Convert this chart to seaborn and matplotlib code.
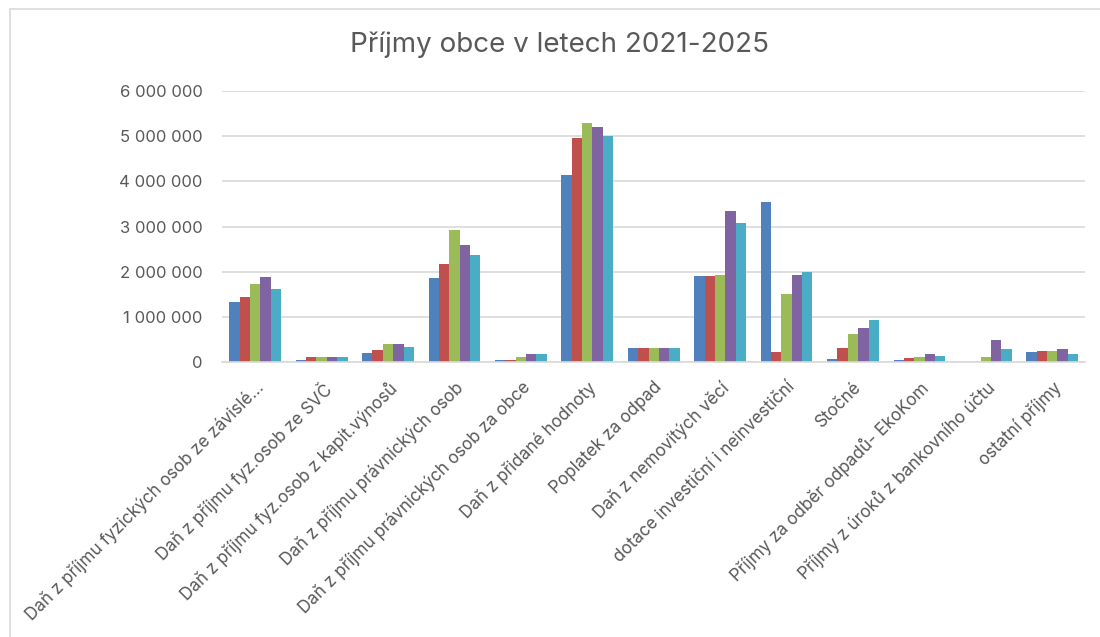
import matplotlib
matplotlib.use("Agg")
import matplotlib.pyplot as plt
from matplotlib.patches import Rectangle
from matplotlib.ticker import FuncFormatter
import seaborn as sns
import pandas as pd

# Data
kategorie = [
    "Daň z příjmu fyzických osob ze závislé…",
    "Daň z příjmu fyz.osob ze SVČ",
    "Daň z příjmu fyz.osob z kapit.výnosů",
    "Daň z příjmu právnických osob",
    "Daň z příjmu právnických osob za obce",
    "Daň z přidané hodnoty",
    "Poplatek za odpad",
    "Daň z nemovitých věcí",
    "dotace investiční i neinvestiční",
    "Stočné",
    "Příjmy za odběr odpadů- EkoKom",
    "Příjmy z úroků z bankovního účtu",
    "ostatní příjmy",
]
roky = ["2021", "2022", "2023", "2024", "2025"]

r2021 = [1330000, 50000, 210000, 1850000, 40000, 4150000, 300000, 1900000, 3540000, 70000, 50000, 0, 220000]
r2022 = [1440000, 120000, 260000, 2180000, 40000, 4960000, 320000, 1900000, 220000, 320000, 80000, 0, 240000]
r2023 = [1730000, 120000, 390000, 2930000, 100000, 5290000, 320000, 1920000, 1510000, 610000, 120000, 100000, 240000]
r2024 = [1880000, 120000, 390000, 2580000, 180000, 5200000, 300000, 3340000, 1920000, 760000, 170000, 480000, 280000]
r2025 = [1620000, 100000, 330000, 2380000, 170000, 5000000, 300000, 3080000, 1990000, 920000, 130000, 280000, 180000]

barvy = ["#4F81BD", "#C0504D", "#9BBB59", "#8064A2", "#4BACC6"]

# Long format pro seaborn
hodnoty = [r2021, r2022, r2023, r2024, r2025]
df = pd.DataFrame(
    [(k, rok, v) for rok, rada in zip(roky, hodnoty) for k, v in zip(kategorie, rada)],
    columns=["Kategorie", "Rok", "Částka"],
)

sns.set_style("white")
plt.rcParams["font.family"] = ["Inter", "DejaVu Sans"]

fig = plt.figure(figsize=(11, 6.37), dpi=100)
ax = fig.add_axes([0.2018, 0.4317, 0.785, 0.4254])

sns.barplot(data=df, x="Kategorie", y="Částka", hue="Rok",
            order=kategorie, hue_order=roky, palette=barvy,
            width=0.78, saturation=1, linewidth=0, legend=False, ax=ax)

ax.set_ylim(0, 6000000)
ax.set_yticks(range(0, 6000001, 1000000))
ax.yaxis.set_major_formatter(FuncFormatter(lambda v, p: f"{int(v):,}".replace(",", " ")))
ax.grid(axis="y", color="#D9D9D9", linewidth=1.2)
ax.set_axisbelow(True)
for s in ["top", "right", "left"]:
    ax.spines[s].set_visible(False)
ax.spines["bottom"].set_color("#D9D9D9")
ax.spines["bottom"].set_linewidth(1.2)

ax.set_xlabel("")
ax.set_ylabel("")
ax.tick_params(axis="y", length=0, pad=14, labelsize=12, labelcolor="#595959")
ax.tick_params(axis="x", length=0, pad=12, labelsize=12.3, labelcolor="#595959")
plt.setp(ax.get_xticklabels(), rotation=45, ha="right", rotation_mode="anchor")

fig.text(0.509, 0.93, "Příjmy obce v letech 2021-2025", ha="center", va="center",
         fontsize=20, color="#595959")

# Rámeček grafu
fig.patches.append(Rectangle((10 / 1100, -0.01), 1.1, 1 - 9 / 637 + 0.01,
                             transform=fig.transFigure, fill=False,
                             edgecolor="#D9D9D9", linewidth=1.2))

fig.savefig("out.png", dpi=100, facecolor="white")
